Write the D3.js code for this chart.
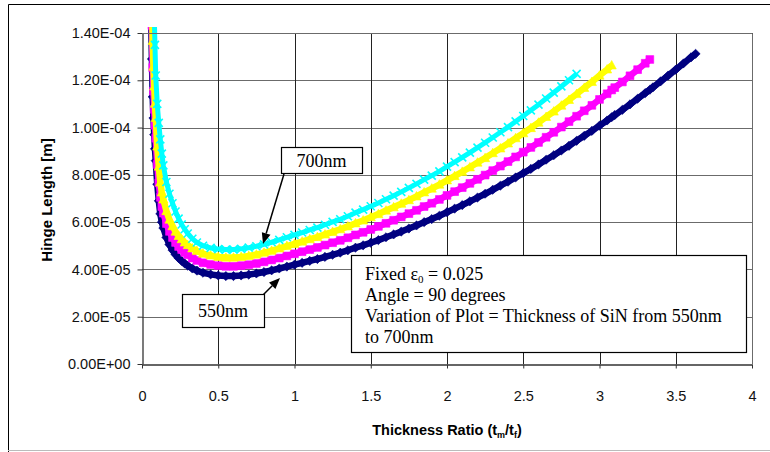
<!DOCTYPE html>
<html><head><meta charset="utf-8">
<script src="https://cdn.jsdelivr.net/npm/d3@7"></script>
<style>body{margin:0;background:#fff}svg{display:block}</style>
</head><body><svg id="c" width="770" height="452"></svg>
<script>
// x values: thickness ratio t_m / t_f
const thicknessRatio = [
  0.055,0.06,0.065,0.07,0.075,0.08,0.085,0.09,0.10,0.11,0.12,0.13,0.14,0.16,0.18,0.20,0.22,0.24,0.26,0.28,0.30,0.33,0.36,0.40,0.45,0.50,
  0.55,0.60,0.65,0.70,0.75,0.80,0.85,0.90,0.95,1.00,
  1.05,1.10,1.15,1.20,1.25,1.30,1.35,1.40,1.45,1.50,
  1.55,1.60,1.65,1.70,1.75,1.80,1.85,1.90,1.95,2.00,
  2.05,2.10,2.15,2.20,2.25,2.30,2.35,2.40,2.45,2.50,
  2.55,2.60,2.65,2.70,2.75,2.80,2.85,2.90,2.95,3.00,
  3.05,3.08,
  3.10,3.15,3.20,3.25,3.30,
  3.33,
  3.35,3.40,3.45,3.50,3.55,3.60,
  3.63
];
// hinge length values in units of 1e-5 m (null = no point)
const UNIT = 1e-5;
const hinge550 = [
  16.0,14.5,12.9,11.3,10.4,9.7,9.1,8.6,7.6,6.9,6.35,6.0,5.75,5.35,5.05,4.82,4.63,4.48,4.36,4.25,4.16,4.04,3.95,3.86,3.79,3.745,
  3.72,3.72,3.745,3.78,3.83,3.89,3.96,4.04,4.12,4.20,
  4.28,4.36,4.44,4.53,4.62,4.71,4.81,4.92,5.02,5.13,
  5.24,5.36,5.48,5.60,5.73,5.86,6.00,6.13,6.27,6.42,
  6.57,6.72,6.88,7.04,7.20,7.37,7.54,7.71,7.89,8.07,
  8.25,8.44,8.64,8.83,9.03,9.23,9.44,9.65,9.86,10.08,
  10.30,10.44,
  10.53,10.75,10.98,11.22,11.46,
  11.60,
  11.70,11.95,12.20,12.45,12.71,12.97,
  13.12
];
const hinge600 = [
  null,16.1,14.32,12.54,11.54,10.77,10.1,9.55,8.44,7.66,7.05,6.66,6.38,5.94,5.61,5.35,5.14,4.97,4.84,4.72,4.62,4.48,4.38,4.28,4.21,4.16,
  4.13,4.13,4.16,4.20,4.25,4.32,4.40,4.48,4.57,4.66,
  4.75,4.84,4.93,5.03,5.13,5.23,5.34,5.46,5.57,5.69,
  5.82,5.95,6.08,6.22,6.36,6.50,6.66,6.80,6.96,7.13,
  7.29,7.46,7.64,7.81,7.99,8.18,8.37,8.56,8.76,8.96,
  9.16,9.37,9.59,9.80,10.02,10.25,10.48,10.71,10.94,11.19,
  11.43,11.59,
  11.69,11.93,12.19,12.45,12.72,
  12.88
];
const hinge650 = [
  null,null,15.6,13.67,12.58,11.74,11.01,10.41,9.2,8.35,7.68,7.26,6.96,6.47,6.11,5.83,5.60,5.42,5.28,5.14,5.03,4.89,4.78,4.67,4.59,4.53,
  4.50,4.50,4.53,4.57,4.63,4.71,4.79,4.89,4.99,5.08,
  5.18,5.28,5.37,5.48,5.59,5.70,5.82,5.95,6.07,6.21,
  6.34,6.49,6.63,6.78,6.93,7.09,7.26,7.42,7.59,7.77,
  7.95,8.13,8.32,8.52,8.71,8.92,9.12,9.33,9.55,9.76,
  9.98,10.21,10.45,10.68,10.93,11.17,11.42,11.68,11.93,12.20,
  12.46,12.63
];
const hinge700 = [
  null,null,null,null,16.0,14.8,13.5,12.2,11.0,10.2,9.5,8.9,8.4,7.7,7.2,6.8,6.45,6.15,5.9,5.7,5.52,5.3,5.14,5.0,4.91,4.86,
  4.84,4.84,4.87,4.92,4.98,5.06,5.15,5.25,5.36,5.46,
  5.56,5.67,5.77,5.89,6.01,6.12,6.25,6.40,6.53,6.67,
  6.81,6.97,7.12,7.28,7.45,7.62,7.80,7.97,8.15,8.35,
  8.54,8.74,8.94,9.15,9.36,9.58,9.80,10.02,10.26,10.49,
  10.73,10.97,11.23,11.48,11.74,12.00,12.27
];
const seriesNames = ["550nm","600nm","650nm","700nm"];
const seriesValues = [hinge550, hinge600, hinge650, hinge700];
const seriesColors = ["#000080","#FF00FF","#FFFF00","#00FFFF"];
const seriesMarkers = ["diamond","square","triangle","cross"];

const xTickValues = [0,0.5,1,1.5,2,2.5,3,3.5,4];
const xTickLabels = ["0","0.5","1","1.5","2","2.5","3","3.5","4"];
const yTickValues = [0,2e-5,4e-5,6e-5,8e-5,1e-4,1.2e-4,1.4e-4];
const yTickLabels = ["0.00E+00","2.00E-05","4.00E-05","6.00E-05","8.00E-05","1.00E-04","1.20E-04","1.40E-04"];

const svg = d3.select("#c");
const L = 142, R = 752, T = 33, B = 364;
const x = d3.scaleLinear().domain([0,4]).range([L,R]);
const y = d3.scaleLinear().domain([0,1.4e-4]).range([B,T]);

// outer frame
svg.append("path").attr("d","M8.5,452 V4.5 H770").attr("fill","none").attr("stroke","#000").attr("stroke-width",1);
svg.append("line").attr("x1",8).attr("x2",770).attr("y1",450.5).attr("y2",450.5).attr("stroke","#bbb");

// gridlines
const g = svg.append("g");
g.selectAll(".hg").data(yTickValues.slice(1)).join("line")
  .attr("x1",L).attr("x2",R).attr("y1",d=>Math.round(y(d))+0.5).attr("y2",d=>Math.round(y(d))+0.5)
  .attr("stroke","#6b6b6b").attr("stroke-width",1);
g.selectAll(".vg").data(xTickValues.slice(1)).join("line")
  .attr("y1",T).attr("y2",B).attr("x1",d=>Math.round(x(d))+0.5).attr("x2",d=>Math.round(x(d))+0.5)
  .attr("stroke","#222").attr("stroke-width",1);

// axes
const fmtX = d => xTickLabels[xTickValues.indexOf(d)];
const fmtY = d => yTickLabels[yTickValues.indexOf(d)];
const xa = svg.append("g").attr("transform",`translate(0,${B+0.5})`)
  .call(d3.axisBottom(x).tickValues(xTickValues).tickFormat(fmtX).tickSizeInner(4).tickSizeOuter(0).tickPadding(20));
const ya = svg.append("g").attr("transform",`translate(${L+0.5},0)`)
  .call(d3.axisLeft(y).tickValues(yTickValues).tickFormat(fmtY).tickSizeInner(5).tickSizeOuter(0).tickPadding(7));
[xa,ya].forEach(a=>{
  a.select(".domain").attr("stroke","#333").attr("stroke-width",1.3);
  a.selectAll(".tick line").attr("stroke","#333");
  a.selectAll("text").attr("font-family","'Liberation Sans',Arial,sans-serif").attr("font-size","14.5px").attr("fill","#111");
});
xa.selectAll("text").attr("dy","0").attr("y",36);

// series
svg.append("clipPath").attr("id","pc").append("rect").attr("x",L).attr("y",T-6).attr("width",R-L+10).attr("height",B-T+6);
const plot = svg.append("g").attr("clip-path","url(#pc)");
const markerPath = {
  diamond: "M0,-4.6L4.6,0L0,4.6L-4.6,0Z",
  square: "M-3.9,-3.9H3.9V3.9H-3.9Z",
  triangle: "M0,-4.9L4.6,3.6H-4.6Z",
  cross: "M-4,-4L4,4M4,-4L-4,4"
};
seriesValues.forEach((vals,si)=>{
  const pts = vals.map((v,i)=>[thicknessRatio[i], v==null?null:v*UNIT]).filter(p=>p[1]!=null);
  const col = seriesColors[si];
  const m = seriesMarkers[si];
  const sg = plot.append("g");
  sg.append("path").datum(pts)
    .attr("d", d3.line().x(p=>x(p[0])).y(p=>y(p[1])))
    .attr("fill","none").attr("stroke",col).attr("stroke-width", m==="cross"?5:6.5)
    .attr("stroke-linejoin","round");
  sg.append("g").selectAll("path").data(pts).join("path")
    .attr("transform",p=>`translate(${x(p[0])},${y(p[1])})`)
    .attr("d", markerPath[m])
    .attr("fill", m==="cross"?"none":col)
    .attr("stroke", col)
    .attr("stroke-width", m==="cross"?1.6:0.6);
});

// plot border (top/right)
svg.append("path").attr("d",`M${L},${T+0.5}H${R+0.5}V${B}`).attr("fill","none").attr("stroke","#6b6b6b");

// axis titles
const bold = "'Liberation Sans',Arial,sans-serif";
svg.append("text").attr("transform","translate(52,200) rotate(-90)").attr("text-anchor","middle")
  .attr("font-family",bold).attr("font-weight","bold").attr("font-size","15px").text("Hinge Length [m]");
const xt = svg.append("text").attr("x",447).attr("y",435).attr("text-anchor","middle")
  .attr("font-family",bold).attr("font-weight","bold").attr("font-size","14.5px");
xt.append("tspan").text("Thickness Ratio (t");
xt.append("tspan").attr("font-size","9px").attr("dy",3).text("m");
xt.append("tspan").attr("dy",-3).text("/t");
xt.append("tspan").attr("font-size","9px").attr("dy",3).text("f");
xt.append("tspan").attr("dy",-3).text(")");

// annotations
const serif = "'Liberation Serif','Times New Roman',serif";
function arrow(x1,y1,x2,y2){
  const ang = Math.atan2(y2-y1,x2-x1), hl=11, hw=4.5;
  const bx = x2 - hl*Math.cos(ang), by = y2 - hl*Math.sin(ang);
  svg.append("line").attr("x1",x1).attr("y1",y1).attr("x2",bx).attr("y2",by).attr("stroke","#000").attr("stroke-width",1.5);
  const px = -Math.sin(ang)*hw, py = Math.cos(ang)*hw;
  svg.append("path").attr("d",`M${x2},${y2}L${bx+px},${by+py}L${bx-px},${by-py}Z`).attr("fill","#000");
}
function box(x0,y0,w,h){
  svg.append("rect").attr("x",x0+0.5).attr("y",y0+0.5).attr("width",w).attr("height",h)
    .attr("fill","#fff").attr("stroke","#000").attr("stroke-width",1.2);
}
arrow(284,174,263,244);
box(281,147,81,26);
svg.append("text").attr("x",321.5).attr("y",167).attr("text-anchor","middle").attr("font-family",serif).attr("font-size","18px").text(seriesNames[3]);

arrow(263,295,280,278);
box(182,294,82,33);
svg.append("text").attr("x",223).attr("y",317).attr("text-anchor","middle").attr("font-family",serif).attr("font-size","18px").text(seriesNames[0]);

box(351,255,395,97);
const info = svg.append("text").attr("font-family",serif).attr("font-size","18px");
const t1 = info.append("tspan").attr("x",365).attr("y",280);
t1.append("tspan").text("Fixed \u03b5");
t1.append("tspan").attr("font-size","11px").attr("dy",3).text("0");
t1.append("tspan").attr("dy",-3).text(" = 0.025");
info.append("tspan").attr("x",365).attr("y",301).text("Angle = 90 degrees");
info.append("tspan").attr("x",365).attr("y",322).text("Variation of Plot = Thickness of SiN from 550nm");
info.append("tspan").attr("x",365).attr("y",343).text("to 700nm");
</script></body></html>
